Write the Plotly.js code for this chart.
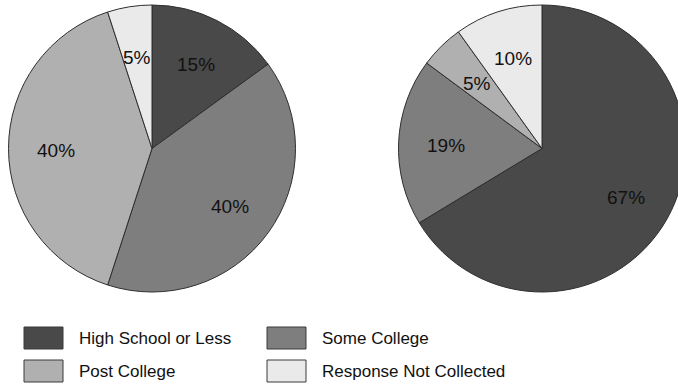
<!DOCTYPE html>
<html>
<head>
<meta charset="utf-8">
<script src="https://cdn.plot.ly/plotly-3.0.1.min.js"></script>
<style>
html,body{margin:0;padding:0;background:#fff;overflow:hidden;width:678px;height:392px;}
#chart{width:700px;height:392px;}
</style>
</head>
<body>
<div id="chart"></div>
<script>
const categories = ["High School or Less", "Some College", "Post College", "Response Not Collected"];
const leftValues = [15, 40, 40, 5];
const rightValues = [67, 19, 5, 10];
const colors = ["#494949", "#7e7e7e", "#b0b0b0", "#eaeaea"];

const W = 700, H = 392;
const px = x => x / W;
const py = y => 1 - y / H;
const FONT = "Liberation Sans, Arial, sans-serif";

const pies = [
  {values: leftValues, x0: 8.5, x1: 295.5, y0: 5, y1: 292},
  {values: rightValues, x0: 398.5, x1: 685.5, y0: 5, y1: 292}
];

const data = pies.map(p => ({
  type: "pie",
  labels: categories,
  values: p.values,
  sort: false,
  direction: "clockwise",
  rotation: 0,
  marker: {colors: colors, line: {color: "#2e2e2e", width: 1}},
  textinfo: "none",
  hoverinfo: "label+value",
  domain: {x: [px(p.x0), px(p.x1)], y: [py(p.y1), py(p.y0)]},
  showlegend: false
}));

const shapes = [], annotations = [];

// slice labels placed along each slice's bisector
pies.forEach(p => {
  const total = p.values.reduce((a, b) => a + b, 0);
  const cx = (p.x0 + p.x1) / 2, cy = (p.y0 + p.y1) / 2, R = (p.x1 - p.x0) / 2;
  let cum = 0;
  p.values.forEach(v => {
    const mid = (cum + v / 2) / total * 2 * Math.PI;
    cum += v;
    const rf = v / total < 0.08 ? 0.65 : 0.67;
    const x = cx + R * rf * Math.sin(mid), y = cy - R * rf * Math.cos(mid) + 1.5;
    annotations.push({xref: "paper", yref: "paper", x: px(x), y: py(y),
      xanchor: "center", yanchor: "middle", showarrow: false, text: v + "%",
      font: {family: FONT, size: 19, color: "#111"}});
  });
});

// custom legend built from categories/colors
const legCols = [24, 267], legRows = [338, 371];
categories.forEach((c, i) => {
  const col = i % 2, row = Math.floor(i / 2);
  const x0 = legCols[col], yc = legRows[row];
  shapes.push({type: "rect", xref: "paper", yref: "paper",
    x0: px(x0), x1: px(x0 + 39), y0: py(yc + 11), y1: py(yc - 11),
    fillcolor: colors[i], line: {color: "#3a3a3a", width: 1}});
  annotations.push({xref: "paper", yref: "paper", x: px(x0 + 53), y: py(yc),
    xanchor: "left", yanchor: "middle", showarrow: false, text: c,
    font: {family: FONT, size: 17, color: "#111"}});
});

const layout = {
  width: W, height: H,
  margin: {l: 0, r: 0, t: 0, b: 0},
  paper_bgcolor: "#fff",
  showlegend: false,
  shapes: shapes,
  annotations: annotations
};
Plotly.newPlot("chart", data, layout, {displayModeBar: false, staticPlot: true});
</script>
</body>
</html>
